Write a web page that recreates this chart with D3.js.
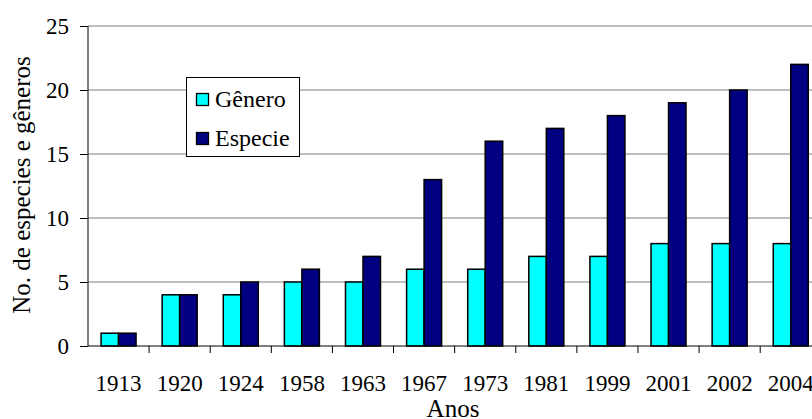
<!DOCTYPE html>
<html><head><meta charset="utf-8">
<script src="https://cdn.jsdelivr.net/npm/d3@7"></script>
<style>body{margin:0;background:#fff;}svg{display:block;}</style>
</head><body>
<svg id="c" width="812" height="419"></svg>
<script>
const categories = ["1913","1920","1924","1958","1963","1967","1973","1981","1999","2001","2002","2004"];
const genero = [1,4,4,5,5,6,6,7,7,8,8,8];
const especie = [1,4,5,6,7,13,16,17,18,19,20,22];
const seriesNames = ["Gênero","Especie"];
const seriesColors = ["#00FFFF","#000080"];
const yTicks = [0,5,10,15,20,25];

(function(){
const svg = d3.select("#c");
const font = "Liberation Serif";
const pL = 88, pR = 821.3, pT = 26, pB = 346;

const x = d3.scaleBand().domain(categories).range([pL, pR]).paddingInner(0).paddingOuter(0);
const y = d3.scaleLinear().domain([0,25]).range([pB, pT]);
const bw = 17.5;

// gridlines
svg.append("g").selectAll("line").data(yTicks.filter(d=>d>0)).join("line")
  .attr("x1", pL).attr("x2", 812).attr("y1", d=>y(d)).attr("y2", d=>y(d))
  .attr("stroke", "#7f7f7f").attr("stroke-width", 1);

// bars
const data = categories.map((c,i)=>({c, vals:[genero[i], especie[i]]}));
const g = svg.append("g");
data.forEach(d=>{
  d.vals.forEach((v,j)=>{
    const cx = x(d.c) + x.bandwidth()/2 - bw + j*bw;
    g.append("rect").attr("x", cx).attr("y", y(v)).attr("width", bw).attr("height", y(0)-y(v))
      .attr("fill", seriesColors[j]).attr("stroke", "#000").attr("stroke-width", 1.5);
  });
});

// y axis
const ya = svg.append("g").attr("transform", `translate(${pL},0)`)
  .call(d3.axisLeft(y).tickValues(yTicks).tickSize(8).tickPadding(11).tickFormat(d3.format("d")));
ya.select(".domain").attr("d", `M0,${pT}V${pB}`).attr("stroke","#000");
ya.selectAll("text").attr("font-family", font).attr("font-size", 23).attr("fill","#000");
ya.selectAll(".tick line").attr("stroke","#000");

// x axis
const xa = svg.append("g").attr("transform", `translate(0,${pB})`)
  .call(d3.axisBottom(x).tickSize(0).tickPadding(29));
xa.select(".domain").attr("d", `M${pL},0H812`).attr("stroke","#000");
xa.selectAll("text").attr("font-family", font).attr("font-size", 23).attr("fill","#000");
svg.append("g").selectAll("line").data(categories.slice(1)).join("line")
  .attr("x1", d=>x(d)).attr("x2", d=>x(d)).attr("y1", pB).attr("y2", pB+7)
  .attr("stroke","#000");

// axis titles
svg.append("text").attr("transform", `translate(30,185) rotate(-90)`).attr("text-anchor","middle")
  .attr("font-family", font).attr("font-size", 25).attr("fill","#000").text("No. de especies e gêneros");
svg.append("text").attr("x", 453).attr("y", 417).attr("text-anchor","middle")
  .attr("font-family", font).attr("font-size", 25).attr("fill","#000").text("Anos");

// legend
const lg = svg.append("g");
lg.append("rect").attr("x",186.5).attr("y",77.5).attr("width",113).attr("height",79)
  .attr("fill","#fff").attr("stroke","#000").attr("stroke-width",1);
seriesNames.forEach((n,i)=>{
  const yy = 93.5 + i*39;
  lg.append("rect").attr("x",196.5).attr("y",yy).attr("width",12).attr("height",12)
    .attr("fill",seriesColors[i]).attr("stroke","#000").attr("stroke-width",1.3);
  lg.append("text").attr("x",215).attr("y",yy+13.5).attr("font-family",font).attr("font-size",24).attr("fill","#000").text(n);
});
})();
</script>
</body></html>
